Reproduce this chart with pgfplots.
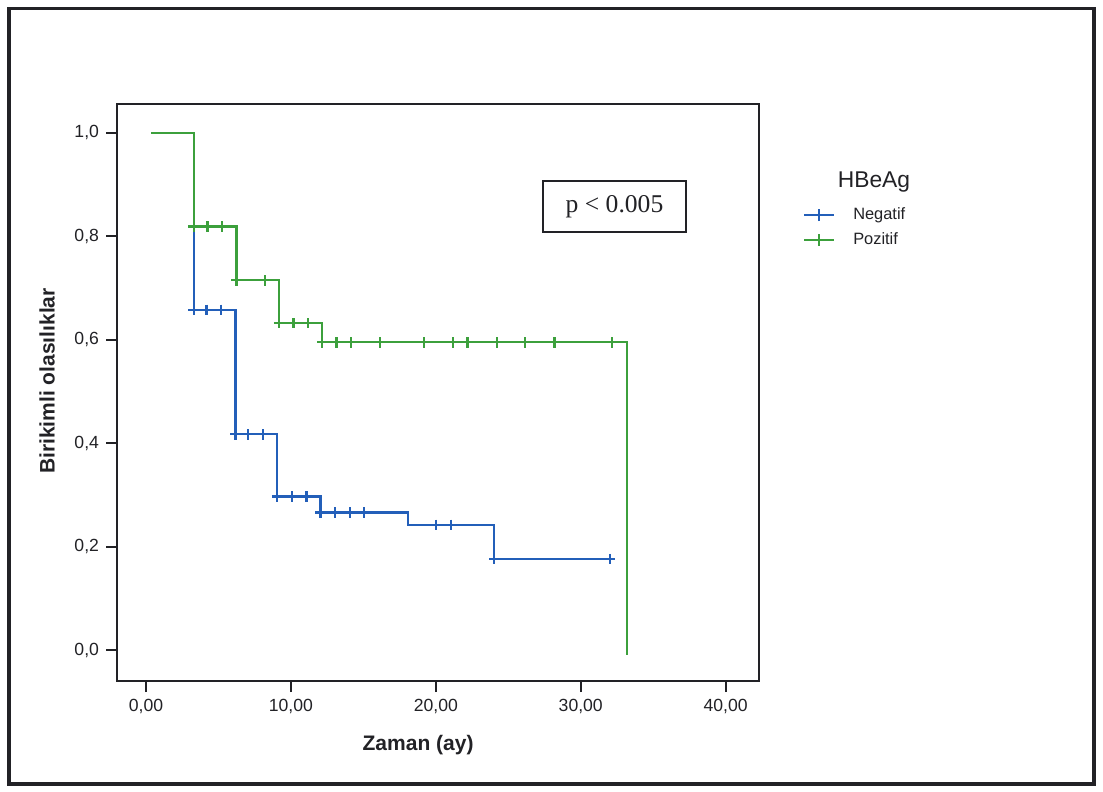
\documentclass[border=0pt]{standalone}
\usepackage{pgfplots}
\pgfplotsset{compat=1.18}
\usepackage{fontspec}
\setmainfont{Liberation Sans}
\newfontfamily\pserif{Liberation Serif}
\newfontfamily\labfont{Liberation Sans Bold}
\definecolor{kmblue}{RGB}{35,95,185}
\definecolor{kmgreen}{RGB}{60,160,60}
\definecolor{ink}{RGB}{34,34,38}
\begin{document}
\begin{tikzpicture}
\useasboundingbox (0pt,0pt) rectangle (551.5pt,-396pt);
\fill[white] (0pt,0pt) rectangle (551.5pt,-396pt);
\draw[ink, line width=1.8pt] (4.5pt,-4.25pt) rectangle (547pt,-392pt);
\begin{axis}[
  at={(58.5pt,-340.5pt)}, anchor=south west,
  scale only axis, width=321pt, height=288.5pt,
  xmin=-2, xmax=42.3, ymin=-0.06, ymax=1.056,
  axis line style={ink, line width=1pt},
  tick style={ink, line width=1pt},
  major tick length=5.5pt, tick align=outside, tick pos=left,
  xtick={0,10,20,30,40},
  xticklabels={{0,00},{10,00},{20,00},{30,00},{40,00}},
  ytick={0,0.2,0.4,0.6,0.8,1.0},
  yticklabels={{0,0},{0,2},{0,4},{0,6},{0,8},{1,0}},
  /pgf/number format/assume math mode=true,
  ticklabel style={font=\fontsize{8.8}{10}\selectfont, text=ink},
  xlabel={Zaman (ay)}, ylabel={Birikimli olasılıklar},
  every axis x label/.style={at={(axis description cs:0.469,-0.111)}, anchor=center,
     font=\labfont\fontsize{10.5}{12}\selectfont, text=ink},
  every axis y label/.style={at={(axis description cs:-0.109,0.52)}, anchor=center, rotate=90,
     font=\labfont\fontsize{10.5}{12}\selectfont, text=ink},
  legend image code/.code={\draw[#1] (0pt,0pt) -- (15pt,0pt); \draw[#1] (7.5pt,-3pt) -- (7.5pt,3pt); \path (22pt,0pt);},
  legend style={at={(axis description cs:1.068,0.828)}, anchor=north west, draw=none, fill=none,
    font=\fontsize{8.2}{10}\selectfont, row sep=1pt, inner sep=0pt,
    nodes={inner sep=2pt, text=ink}},
  legend cell align=left,
  clip=false,
]
\addplot[kmblue, line width=1.1pt, mark=none] coordinates {
(0.35,1)(3.29,1)(3.29,0.658)(6.17,0.658)(6.17,0.417)(9.05,0.417)(9.05,0.297)(12.04,0.297)(12.04,0.266)(18.06,0.266)(18.06,0.242)(24.04,0.242)(24.04,0.176)(32.03,0.176)};
\addlegendentry{Negatif}
\addplot[kmgreen, line width=1.1pt, mark=none] coordinates {
(0.35,1)(3.29,1)(3.29,0.819)(6.24,0.819)(6.24,0.715)(9.19,0.715)(9.19,0.632)(12.16,0.632)(12.16,0.595)(33.18,0.595)(33.18,-0.01)};
\addlegendentry{Pozitif}
\addplot[kmblue, only marks, mark=+, mark size=2.6pt, mark options={line width=1.1pt}, forget plot] coordinates {
(3.29,0.658)(4.17,0.658)(5.18,0.658)(6.17,0.417)(7.05,0.417)(8.08,0.417)(9.05,0.297)(10.06,0.297)(11.07,0.297)(12.04,0.266)(13.03,0.266)(14.05,0.266)(15.06,0.266)(20.01,0.242)(21.05,0.242)(24.04,0.176)(32.03,0.176)};
\addplot[kmgreen, only marks, mark=+, mark size=2.6pt, mark options={line width=1.1pt}, forget plot] coordinates {
(3.29,0.819)(4.24,0.819)(5.25,0.819)(6.24,0.715)(8.22,0.715)(9.19,0.632)(10.18,0.632)(11.19,0.632)(12.16,0.595)(13.15,0.595)(14.16,0.595)(16.17,0.595)(19.18,0.595)(21.16,0.595)(22.18,0.595)(24.2,0.595)(26.18,0.595)(28.19,0.595)(32.17,0.595)};
\end{axis}
\node[draw=ink, line width=1pt, minimum width=71.5pt, minimum height=25.5pt, inner sep=0pt, font=\pserif\fontsize{12.8}{14}\selectfont, text=ink] at (307.25pt,-103.25pt) {p < 0.005};
\node[font=\fontsize{11.4}{13}\selectfont, text=ink] at (437pt,-91pt) {HBeAg};
\end{tikzpicture}
\end{document}
